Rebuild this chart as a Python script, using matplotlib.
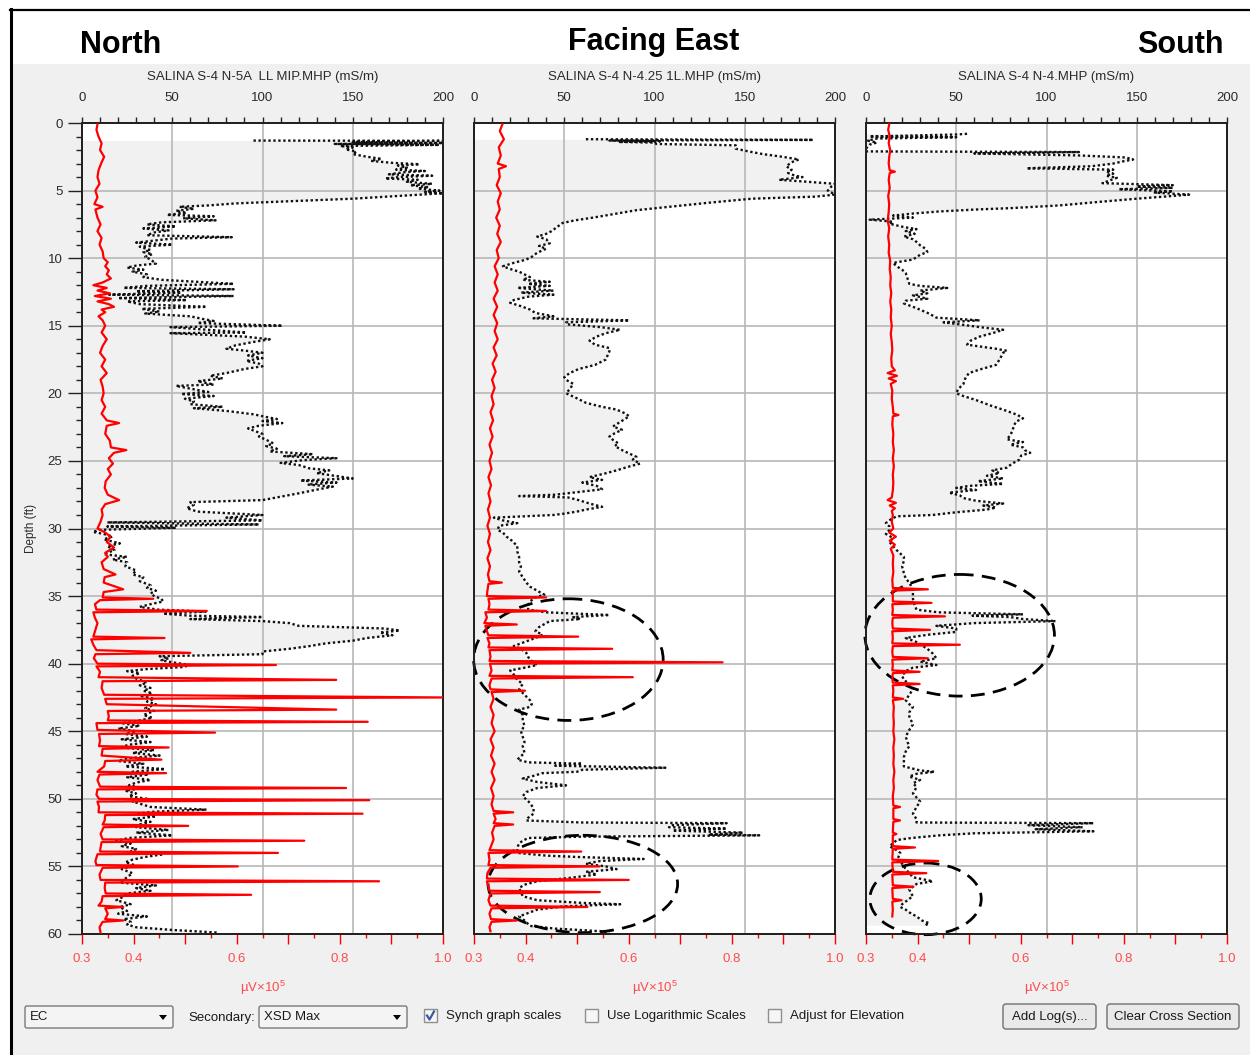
import numpy as np
import matplotlib
matplotlib.use("Agg")
import matplotlib.pyplot as plt
from matplotlib.patches import Ellipse, Rectangle, FancyBboxPatch, Polygon
from matplotlib.lines import Line2D
from matplotlib.ticker import MultipleLocator, FixedLocator, FixedFormatter

plt.rcParams["font.family"] = "Liberation Sans"
plt.rcParams["mathtext.fontset"] = "custom"
plt.rcParams["mathtext.rm"] = "Liberation Sans"
plt.rcParams["mathtext.default"] = "regular"

# ---------------------------------------------------------------- data
titles = ["North", "Facing East", "South"]
log_names = ["SALINA S-4 N-5A  LL MIP.MHP (mS/m)",
             "SALINA S-4 N-4.25 1L.MHP (mS/m)",
             "SALINA S-4 N-4.MHP (mS/m)"]
ec_ticks = [0, 50, 100, 150, 200]
xsd_ticks = [0.3, 0.4, 0.5, 0.6, 0.7, 0.8, 0.9, 1.0]
xsd_ticklabels = ["0.3", "0.4", "", "0.6", "", "0.8", "", "1.0"]
depth_ticks = [0, 5, 10, 15, 20, 25, 30, 35, 40, 45, 50, 55, 60]

# EC log (mS/m) as (depth ft, value) pairs
north_ec = [
    (1.30, 95), (1.32, 200), (1.40, 150), (1.48, 200), (1.55, 140), (1.62, 198),
    (1.70, 143), (1.80, 150), (1.95, 146), (2.10, 152), (2.30, 150), (2.50, 158),
    (2.65, 166), (2.80, 160), (2.95, 172), (3.05, 187), (3.15, 175), (3.30, 180),
    (3.45, 174), (3.55, 190), (3.65, 178), (3.80, 170), (3.90, 194), (4.00, 176),
    (4.10, 168), (4.20, 186), (4.35, 180), (4.50, 194), (4.60, 182), (4.75, 192),
    (4.85, 186), (5.00, 198), (5.10, 190), (5.20, 200), (5.60, 150), (5.95, 85),
    (6.10, 70), (6.20, 54), (6.35, 62), (6.50, 52), (6.65, 58), (6.80, 47),
    (6.90, 73), (7.05, 56), (7.20, 74), (7.35, 44), (7.50, 36), (7.65, 52),
    (7.80, 34), (7.95, 48), (8.10, 40), (8.30, 36), (8.45, 83), (8.55, 50),
    (8.70, 40), (8.85, 30), (9.00, 50), (9.15, 32), (9.40, 38), (9.55, 34),
    (9.70, 39), (9.90, 35), (10.10, 38), (10.40, 41), (10.55, 30), (10.70, 25),
    (10.85, 34), (11.00, 28), (11.20, 36), (11.40, 34), (11.60, 44), (11.90, 84),
    (12.05, 36), (12.20, 23), (12.30, 84), (12.45, 30), (12.55, 55), (12.70, 15),
    (12.80, 84), (12.95, 20), (13.10, 58), (13.20, 25), (13.40, 32), (13.60, 69),
    (13.75, 33), (13.95, 43), (14.10, 35), (14.30, 60), (14.50, 67), (14.65, 73),
    (14.80, 64), (15.00, 111), (15.10, 49), (15.30, 70), (15.50, 91), (15.55, 49),
    (15.80, 90), (16.00, 104), (16.20, 95), (16.45, 85), (16.70, 80), (16.85, 91),
    (17.00, 100), (17.20, 92), (17.40, 100), (17.60, 91), (17.80, 98), (18.00, 100),
    (18.20, 90), (18.50, 80), (18.70, 71), (18.90, 78), (19.10, 64), (19.35, 73),
    (19.45, 52), (19.70, 62), (19.90, 70), (20.05, 55), (20.20, 73), (20.40, 57),
    (20.60, 62), (20.80, 60), (21.00, 78), (21.10, 62), (21.30, 80), (21.55, 95),
    (21.75, 102), (21.90, 108), (22.05, 100), (22.20, 111), (22.40, 98), (22.60, 92),
    (22.80, 96), (23.00, 100), (23.20, 98), (23.50, 103), (23.70, 106), (23.90, 102),
    (24.10, 108), (24.30, 104), (24.50, 128), (24.65, 112), (24.80, 141), (24.95, 122),
    (25.15, 110), (25.30, 120), (25.55, 126), (25.70, 137), (25.90, 130), (26.10, 140),
    (26.30, 150), (26.45, 121), (26.60, 141), (26.75, 125), (26.90, 139), (27.10, 131),
    (27.40, 120), (27.70, 108), (27.90, 100), (28.05, 60), (28.25, 62), (28.50, 58),
    (28.75, 64), (29.00, 100), (29.20, 80), (29.40, 100), (29.55, 14), (29.70, 98),
    (29.85, 14), (29.95, 52), (30.10, 10), (30.25, 6), (30.40, 12), (30.60, 17),
    (30.80, 12), (31.10, 21), (31.30, 14), (31.60, 18), (31.90, 12), (32.10, 25),
    (32.30, 17), (32.50, 25), (32.80, 24), (33.10, 30), (33.40, 28), (33.60, 34),
    (33.90, 32), (34.20, 38), (34.40, 36), (34.60, 41), (34.80, 38), (35.00, 40),
    (35.20, 44), (35.40, 45), (35.60, 38), (35.80, 32), (36.00, 42), (36.15, 69),
    (36.30, 45), (36.45, 60), (36.55, 100), (36.70, 60), (36.85, 100), (37.00, 115),
    (37.20, 120), (37.40, 168), (37.55, 176), (37.70, 165), (37.90, 172), (38.10, 158),
    (38.30, 150), (38.50, 135), (38.70, 126), (38.90, 115), (39.10, 100), (39.30, 100),
    (39.45, 43), (39.60, 48), (39.75, 44), (39.90, 50), (40.10, 60), (40.25, 56),
    (40.40, 36), (40.55, 25), (40.70, 32), (40.90, 28), (41.10, 30), (41.40, 36),
    (41.60, 32), (41.80, 38), (42.00, 34), (42.20, 39), (42.40, 33), (42.60, 40),
    (42.80, 36), (43.00, 41), (43.30, 35), (43.50, 40), (43.80, 34), (44.00, 39),
    (44.20, 32), (44.40, 22), (44.60, 32), (44.80, 20), (45.00, 30), (45.20, 24),
    (45.40, 36), (45.60, 22), (45.80, 38), (46.00, 26), (46.20, 21), (46.40, 40),
    (46.60, 28), (46.80, 43), (47.00, 25), (47.20, 20), (47.40, 34), (47.60, 24),
    (47.80, 46), (48.00, 28), (48.20, 37), (48.40, 25), (48.60, 38), (48.80, 30),
    (49.00, 26), (49.20, 34), (49.40, 24), (49.60, 30), (49.80, 26), (50.00, 36),
    (50.20, 28), (50.40, 33), (50.60, 38), (50.80, 69), (50.95, 40), (51.10, 30),
    (51.30, 41), (51.50, 28), (51.70, 38), (51.90, 32), (52.10, 30), (52.30, 48),
    (52.50, 30), (52.70, 50), (52.90, 26), (53.10, 19), (53.30, 27), (53.50, 22),
    (53.70, 30), (53.90, 27), (54.10, 45), (54.30, 35), (54.50, 28), (54.70, 24),
    (54.90, 29), (55.20, 22), (55.50, 28), (55.80, 25), (56.00, 23), (56.20, 21),
    (56.40, 41), (56.60, 30), (56.80, 38), (57.00, 25), (57.30, 22), (57.50, 19),
    (57.80, 27), (58.00, 21), (58.30, 25), (58.50, 20), (58.70, 36), (58.90, 23),
    (59.10, 27), (59.30, 25), (59.50, 30), (59.70, 50), (59.90, 76),
]

east_ec = [
    (1.20, 62), (1.25, 188), (1.30, 75), (1.35, 103), (1.40, 80), (1.45, 100),
    (1.55, 101), (1.65, 145), (1.90, 145), (2.10, 152), (2.30, 160), (2.50, 171),
    (2.70, 180), (2.90, 176), (3.20, 173), (3.45, 176), (3.70, 174), (3.90, 178),
    (4.00, 182), (4.20, 169), (4.35, 185), (4.50, 200), (4.70, 198), (5.00, 196),
    (5.30, 200), (5.45, 189), (5.60, 154), (5.90, 130), (6.20, 108), (6.45, 90),
    (6.70, 79), (7.00, 66), (7.20, 56), (7.40, 49), (7.70, 46), (8.00, 43),
    (8.20, 40), (8.40, 35), (8.60, 40), (8.90, 42), (9.10, 36), (9.30, 40),
    (9.60, 35), (9.90, 32), (10.10, 29), (10.35, 22), (10.60, 16), (10.80, 20),
    (11.00, 25), (11.20, 28), (11.40, 31), (11.60, 27), (11.75, 42), (11.90, 30),
    (12.05, 42), (12.20, 24), (12.40, 44), (12.55, 26), (12.70, 44), (12.85, 30),
    (13.10, 22), (13.30, 20), (13.55, 26), (13.80, 31), (14.05, 34), (14.30, 44),
    (14.45, 33), (14.60, 86), (14.75, 51), (14.90, 52), (15.10, 70), (15.30, 81),
    (15.55, 73), (15.80, 68), (16.10, 64), (16.40, 67), (16.65, 75), (16.90, 75),
    (17.20, 74), (17.50, 73), (17.90, 67), (18.20, 58), (18.50, 53), (18.80, 50),
    (19.00, 51), (19.30, 55), (19.70, 53), (20.00, 51), (20.30, 56), (20.70, 62),
    (21.00, 71), (21.20, 79), (21.50, 84), (21.70, 86), (21.95, 83), (22.20, 80),
    (22.45, 77), (22.70, 82), (22.95, 78), (23.20, 75), (23.45, 77), (23.70, 80),
    (23.90, 78), (24.20, 82), (24.45, 86), (24.70, 90), (24.90, 88), (25.20, 92),
    (25.45, 85), (25.70, 79), (25.95, 72), (26.20, 64), (26.40, 71), (26.60, 60),
    (26.85, 68), (27.10, 71), (27.30, 58), (27.50, 45), (27.60, 25), (27.70, 52),
    (27.90, 58), (28.15, 64), (28.40, 71), (28.60, 62), (28.75, 57), (28.90, 50),
    (29.00, 44), (29.20, 11), (29.40, 16), (29.60, 24), (29.80, 14), (30.10, 13),
    (30.30, 16), (30.60, 18), (30.90, 21), (31.30, 24), (31.70, 24), (32.10, 25),
    (32.50, 25), (32.80, 26), (33.20, 25), (33.60, 27), (34.00, 29), (34.30, 31),
    (34.60, 35), (34.90, 39), (35.10, 34), (35.40, 31), (35.70, 30), (36.00, 30),
    (36.20, 40), (36.40, 75), (36.55, 55), (36.70, 59), (36.85, 42), (37.00, 40),
    (37.30, 36), (37.60, 34), (37.85, 38), (38.00, 36), (38.30, 30), (38.55, 25),
    (38.70, 22), (38.90, 26), (39.20, 29), (39.50, 30), (39.70, 31), (39.90, 33),
    (40.10, 35), (40.30, 28), (40.50, 20), (40.80, 22), (41.20, 24), (41.50, 27),
    (41.90, 25), (42.30, 28), (42.70, 31), (43.00, 32), (43.20, 31), (43.40, 25),
    (43.80, 27), (44.20, 27), (44.60, 28), (45.00, 26), (45.40, 27), (45.80, 28),
    (46.10, 27), (46.60, 28), (47.10, 24), (47.30, 30), (47.40, 60), (47.55, 45),
    (47.70, 106), (47.85, 60), (48.00, 57), (48.10, 38), (48.30, 33), (48.50, 27),
    (48.75, 35), (49.00, 51), (49.20, 35), (49.50, 29), (49.80, 27), (50.05, 29),
    (50.30, 31), (50.70, 33), (51.10, 33), (51.40, 30), (51.60, 29), (51.75, 60),
    (51.80, 140), (51.95, 110), (52.10, 108), (52.20, 140), (52.35, 110), (52.50, 149),
    (52.65, 130), (52.70, 158), (52.80, 60), (52.90, 30), (53.10, 27), (53.30, 25),
    (53.60, 24), (54.00, 24), (54.20, 40), (54.30, 57), (54.45, 94), (54.60, 70),
    (54.80, 62), (55.00, 73), (55.20, 79), (55.40, 62), (55.60, 68), (55.85, 53),
    (56.10, 35), (56.35, 28), (56.60, 25), (56.90, 26), (57.20, 27), (57.50, 35),
    (57.70, 60), (57.80, 81), (57.95, 50), (58.20, 35), (58.45, 30), (58.70, 25),
    (59.00, 28), (59.40, 31), (59.60, 45), (59.80, 71), (59.95, 75),
]

south_ec = [
    (0.80, 56), (0.85, 50), (1.00, 2), (1.05, 50), (1.15, 6), (1.30, 1),
    (1.45, 6), (1.60, 2), (1.90, 0), (2.10, 0), (2.15, 118), (2.25, 60),
    (2.40, 118), (2.55, 144), (2.70, 148), (2.85, 142), (3.00, 137), (3.20, 125),
    (3.35, 89), (3.45, 137), (3.60, 133), (3.75, 137), (3.90, 133), (4.05, 139),
    (4.20, 136), (4.45, 131), (4.60, 170), (4.70, 150), (4.80, 170), (4.90, 140),
    (5.05, 170), (5.15, 160), (5.30, 179), (5.45, 165), (5.60, 150), (5.85, 128),
    (6.10, 107), (6.30, 80), (6.40, 61), (6.55, 40), (6.70, 26), (6.85, 15),
    (7.00, 26), (7.15, 2), (7.30, 15), (7.45, 13), (7.70, 21), (7.85, 28),
    (8.00, 22), (8.20, 27), (8.40, 21), (8.60, 26), (8.80, 28), (9.05, 30),
    (9.30, 33), (9.55, 34), (9.75, 30), (10.10, 26), (10.35, 15), (10.60, 17),
    (10.85, 20), (11.10, 22), (11.50, 23), (11.90, 24), (12.05, 30), (12.20, 45),
    (12.40, 30), (12.60, 34), (12.75, 26), (13.00, 34), (13.15, 22), (13.35, 21),
    (13.70, 28), (14.10, 35), (14.40, 39), (14.60, 63), (14.75, 43), (14.90, 52),
    (15.10, 63), (15.30, 76), (15.55, 70), (15.80, 63), (16.10, 58), (16.40, 56),
    (16.70, 72), (16.85, 78), (17.00, 76), (17.50, 74), (17.90, 72), (18.20, 64),
    (18.50, 57), (18.90, 55), (19.30, 54), (19.70, 51), (20.00, 50), (20.20, 54),
    (20.50, 61), (20.90, 69), (21.30, 78), (21.60, 84), (21.85, 87), (22.10, 83),
    (22.40, 82), (22.80, 81), (23.10, 80), (23.40, 78), (23.60, 87), (23.80, 80),
    (24.00, 87), (24.20, 88), (24.40, 91), (24.60, 86), (24.90, 85), (25.20, 81),
    (25.50, 78), (25.70, 70), (25.90, 74), (26.10, 67), (26.30, 76), (26.50, 62),
    (26.70, 76), (26.85, 57), (27.00, 50), (27.15, 61), (27.35, 46), (27.55, 52),
    (27.75, 54), (27.95, 61), (28.15, 76), (28.30, 65), (28.45, 72), (28.60, 67),
    (28.80, 50), (29.00, 37), (29.10, 17), (29.30, 14), (29.60, 11), (29.85, 13),
    (30.10, 13), (30.40, 11), (30.70, 15), (31.00, 13), (31.30, 15), (31.60, 17),
    (31.85, 19), (32.10, 21), (32.40, 21), (32.80, 20), (33.30, 21), (33.70, 22),
    (34.00, 24), (34.50, 26), (35.20, 26), (35.70, 27), (36.00, 28), (36.20, 40),
    (36.35, 87), (36.45, 59), (36.55, 80), (36.70, 87), (36.85, 105), (37.00, 60),
    (37.20, 39), (37.40, 50), (37.65, 50), (37.85, 35), (38.10, 22), (38.40, 28),
    (38.90, 34), (39.25, 37), (39.60, 39), (39.85, 30), (40.10, 39), (40.30, 26),
    (40.55, 22), (40.90, 20), (41.20, 21), (41.60, 25), (41.90, 26), (42.30, 24),
    (42.70, 22), (43.00, 24), (43.20, 26), (43.60, 24), (43.90, 24), (44.20, 25),
    (44.50, 26), (44.90, 24), (45.40, 22), (45.80, 23), (46.10, 24), (46.50, 22),
    (46.90, 21), (47.30, 21), (47.60, 21), (47.90, 30), (48.00, 38), (48.15, 28),
    (48.35, 24), (48.60, 30), (48.85, 26), (49.10, 28), (49.40, 27), (49.60, 26),
    (49.90, 28), (50.20, 30), (50.60, 28), (51.10, 26), (51.50, 28), (51.75, 28),
    (51.80, 126), (51.95, 90), (52.10, 120), (52.25, 94), (52.40, 126), (52.55, 60),
    (52.70, 41), (52.90, 25), (53.05, 17), (53.30, 15), (53.50, 13), (53.80, 17),
    (54.00, 19), (54.30, 18), (54.50, 17), (54.80, 20), (55.20, 22), (55.50, 24),
    (55.80, 26), (56.10, 37), (56.30, 28), (56.50, 26), (56.70, 24), (57.00, 25),
    (57.20, 26), (57.50, 23), (57.80, 20), (58.00, 19), (58.20, 22), (58.40, 24),
    (58.70, 28), (59.00, 31), (59.20, 35), (59.35, 33),
]

# XSD Max (uV x 10^5) as (depth ft, value) pairs
north_xsd = [
    (0.1, 0.330), (0.5, 0.328), (1.0, 0.332), (1.5, 0.338), (2.0, 0.335), (2.5, 0.343),
    (3.0, 0.337), (3.5, 0.332), (4.0, 0.330), (4.5, 0.334), (5.0, 0.326), (5.5, 0.330),
    (6.0, 0.324), (6.2, 0.340), (6.4, 0.326), (7.0, 0.330), (7.5, 0.336), (8.0, 0.330),
    (8.5, 0.338), (9.0, 0.334), (9.5, 0.340), (10.0, 0.342), (10.3, 0.350), (10.6, 0.345),
    (10.9, 0.352), (11.2, 0.348), (11.5, 0.356), (11.8, 0.340), (12.0, 0.322), (12.2, 0.348),
    (12.4, 0.330), (12.6, 0.354), (12.8, 0.325), (13.0, 0.356), (13.2, 0.330), (13.4, 0.352),
    (13.6, 0.362), (13.8, 0.338), (14.0, 0.345), (14.3, 0.332), (14.6, 0.340), (15.0, 0.345),
    (15.5, 0.338), (16.0, 0.348), (16.5, 0.340), (17.0, 0.335), (17.5, 0.345), (18.0, 0.338),
    (18.5, 0.348), (19.0, 0.336), (19.5, 0.340), (20.0, 0.342), (20.5, 0.338), (21.0, 0.345),
    (21.5, 0.338), (22.0, 0.348), (22.2, 0.372), (22.4, 0.348), (23.0, 0.345), (23.5, 0.354),
    (24.0, 0.356), (24.2, 0.386), (24.4, 0.362), (24.8, 0.352), (25.2, 0.360), (25.6, 0.350),
    (26.0, 0.356), (26.5, 0.346), (27.0, 0.344), (27.5, 0.350), (27.9, 0.372), (28.2, 0.345),
    (28.6, 0.338), (29.0, 0.340), (29.5, 0.336), (30.0, 0.330), (30.3, 0.345), (30.6, 0.355),
    (31.0, 0.348), (31.4, 0.362), (31.8, 0.345), (32.1, 0.350), (32.5, 0.338), (33.0, 0.342),
    (33.4, 0.365), (33.6, 0.344), (34.0, 0.342), (34.5, 0.380), (34.7, 0.342), (35.1, 0.340),
    (35.2, 0.438), (35.3, 0.335), (35.6, 0.325), (36.0, 0.328), (36.1, 0.542), (36.2, 0.322),
    (36.6, 0.325), (37.0, 0.330), (37.5, 0.326), (38.0, 0.322), (38.1, 0.460), (38.2, 0.318),
    (38.6, 0.322), (39.0, 0.328), (39.2, 0.510), (39.3, 0.326), (39.6, 0.323), (40.0, 0.330),
    (40.1, 0.676), (40.2, 0.328), (40.6, 0.335), (41.0, 0.332), (41.2, 0.793), (41.3, 0.340),
    (41.8, 0.338), (42.3, 0.343), (42.5, 1.000), (42.6, 0.345), (43.0, 0.348), (43.4, 0.793),
    (43.5, 0.350), (43.9, 0.352), (44.2, 0.350), (44.3, 0.854), (44.4, 0.328), (44.9, 0.330),
    (45.1, 0.558), (45.2, 0.333), (45.7, 0.335), (46.1, 0.333), (46.2, 0.468), (46.3, 0.340),
    (46.8, 0.338), (47.1, 0.454), (47.2, 0.345), (47.6, 0.343), (48.0, 0.330), (48.1, 0.463),
    (48.2, 0.334), (48.6, 0.330), (49.1, 0.335), (49.2, 0.812), (49.3, 0.330), (49.7, 0.328),
    (50.0, 0.333), (50.1, 0.857), (50.2, 0.330), (50.6, 0.333), (51.0, 0.332), (51.1, 0.844),
    (51.2, 0.345), (51.6, 0.344), (51.9, 0.340), (52.0, 0.506), (52.1, 0.342), (52.6, 0.336),
    (53.0, 0.340), (53.1, 0.731), (53.2, 0.338), (53.6, 0.336), (53.9, 0.335), (54.0, 0.680),
    (54.1, 0.330), (54.6, 0.326), (54.9, 0.328), (55.0, 0.602), (55.1, 0.340), (55.6, 0.334),
    (56.0, 0.336), (56.1, 0.876), (56.2, 0.345), (56.6, 0.344), (57.0, 0.346), (57.1, 0.628),
    (57.2, 0.340), (57.6, 0.338), (57.9, 0.332), (58.0, 0.380), (58.1, 0.345), (58.5, 0.350),
    (58.9, 0.345), (59.0, 0.380), (59.1, 0.340), (59.5, 0.334), (59.9, 0.336),
]

east_xsd = [
    (0.1, 0.355), (0.6, 0.350), (1.2, 0.358), (1.8, 0.348), (2.4, 0.352), (3.0, 0.346),
    (3.2, 0.362), (3.4, 0.348), (4.0, 0.350), (4.6, 0.344), (5.2, 0.352), (5.8, 0.346),
    (6.4, 0.350), (7.0, 0.343), (7.6, 0.350), (8.2, 0.345), (8.8, 0.352), (9.4, 0.344),
    (10.0, 0.348), (10.6, 0.340), (11.2, 0.346), (11.8, 0.340), (12.4, 0.346), (13.0, 0.338),
    (13.6, 0.345), (14.2, 0.338), (14.8, 0.345), (15.4, 0.340), (16.0, 0.346), (16.6, 0.338),
    (17.2, 0.344), (17.8, 0.336), (18.4, 0.342), (19.0, 0.335), (19.6, 0.340), (20.2, 0.334),
    (20.8, 0.338), (21.4, 0.332), (22.0, 0.337), (22.6, 0.331), (23.2, 0.336), (23.8, 0.330),
    (24.4, 0.335), (25.0, 0.330), (25.6, 0.334), (26.2, 0.328), (26.8, 0.333), (27.4, 0.328),
    (28.0, 0.332), (28.6, 0.327), (29.2, 0.331), (29.8, 0.326), (30.4, 0.331), (31.0, 0.327),
    (31.6, 0.332), (32.2, 0.326), (32.8, 0.331), (33.4, 0.327), (33.9, 0.330), (34.0, 0.354),
    (34.1, 0.328), (34.6, 0.326), (35.0, 0.325), (35.1, 0.440), (35.2, 0.328), (35.6, 0.330),
    (36.0, 0.328), (36.1, 0.440), (36.2, 0.322), (36.6, 0.325), (37.0, 0.320), (37.1, 0.383),
    (37.2, 0.322), (37.6, 0.325), (37.9, 0.328), (38.0, 0.502), (38.1, 0.326), (38.5, 0.330),
    (38.8, 0.328), (38.9, 0.568), (39.0, 0.330), (39.5, 0.332), (39.8, 0.330), (39.9, 0.782),
    (40.0, 0.331), (40.5, 0.334), (40.9, 0.330), (41.0, 0.608), (41.1, 0.334), (41.6, 0.330),
    (41.9, 0.332), (42.0, 0.399), (42.1, 0.334), (42.6, 0.338), (43.2, 0.332), (43.8, 0.338),
    (44.4, 0.334), (45.0, 0.340), (45.6, 0.332), (46.2, 0.338), (46.8, 0.333), (47.4, 0.340),
    (48.0, 0.334), (48.6, 0.340), (49.2, 0.333), (49.8, 0.338), (50.4, 0.334), (50.9, 0.338),
    (51.0, 0.376), (51.1, 0.338), (51.5, 0.342), (51.8, 0.338), (51.9, 0.376), (52.0, 0.340),
    (52.5, 0.335), (53.0, 0.338), (53.5, 0.333), (53.8, 0.330), (53.9, 0.508), (54.0, 0.328),
    (54.5, 0.330), (54.9, 0.328), (55.0, 0.543), (55.1, 0.332), (55.5, 0.326), (55.9, 0.325),
    (56.0, 0.600), (56.1, 0.325), (56.5, 0.328), (56.8, 0.330), (56.9, 0.544), (57.0, 0.332),
    (57.5, 0.328), (57.9, 0.332), (58.0, 0.520), (58.1, 0.334), (58.5, 0.330), (58.9, 0.333),
    (59.0, 0.383), (59.1, 0.334), (59.5, 0.330), (59.8, 0.332),
]

south_xsd = [
    (0.1, 0.345), (0.5, 0.343), (1.0, 0.346), (1.5, 0.344), (2.0, 0.347), (2.5, 0.345),
    (3.0, 0.344), (3.5, 0.346), (3.6, 0.356), (3.7, 0.346), (4.2, 0.344), (4.8, 0.346),
    (5.4, 0.343), (6.0, 0.345), (6.6, 0.344), (7.2, 0.342), (7.8, 0.345), (8.4, 0.343),
    (9.0, 0.345), (9.6, 0.344), (10.2, 0.347), (10.8, 0.346), (11.4, 0.348), (12.0, 0.347),
    (12.6, 0.349), (13.2, 0.347), (13.8, 0.349), (14.4, 0.348), (15.0, 0.350), (15.6, 0.348),
    (16.2, 0.350), (16.8, 0.351), (17.4, 0.349), (18.0, 0.350), (18.3, 0.356), (18.5, 0.342),
    (18.7, 0.360), (18.9, 0.344), (19.1, 0.358), (19.3, 0.348), (19.8, 0.351), (20.4, 0.350),
    (21.0, 0.352), (21.5, 0.353), (21.6, 0.363), (21.7, 0.352), (22.3, 0.351), (23.0, 0.353),
    (23.6, 0.352), (24.2, 0.354), (24.8, 0.352), (25.4, 0.354), (26.0, 0.352), (26.6, 0.353),
    (27.2, 0.352), (27.7, 0.350), (27.9, 0.342), (28.1, 0.358), (28.3, 0.346), (28.5, 0.356),
    (28.7, 0.350), (29.0, 0.352), (29.5, 0.350), (30.0, 0.353), (30.3, 0.345), (30.6, 0.358),
    (30.9, 0.346), (31.2, 0.356), (31.5, 0.348), (32.0, 0.353), (32.6, 0.352), (33.2, 0.353),
    (33.8, 0.351), (34.4, 0.352), (34.5, 0.420), (34.6, 0.351), (35.0, 0.352), (35.4, 0.352),
    (35.5, 0.427), (35.6, 0.351), (36.0, 0.352), (36.4, 0.351), (36.5, 0.453), (36.6, 0.352),
    (37.0, 0.351), (37.4, 0.352), (37.5, 0.424), (37.6, 0.351), (38.1, 0.352), (38.5, 0.351),
    (38.6, 0.482), (38.7, 0.352), (39.1, 0.351), (39.5, 0.352), (39.6, 0.420), (39.7, 0.351),
    (40.1, 0.352), (40.5, 0.351), (40.6, 0.404), (40.7, 0.352), (41.1, 0.351), (41.4, 0.352),
    (41.5, 0.404), (41.6, 0.352), (42.0, 0.353), (42.5, 0.352), (42.6, 0.372), (42.7, 0.352),
    (43.2, 0.354), (43.8, 0.353), (44.4, 0.354), (45.0, 0.353), (45.6, 0.355), (46.2, 0.353),
    (46.8, 0.354), (47.4, 0.353), (48.0, 0.355), (48.6, 0.353), (49.2, 0.354), (49.8, 0.352),
    (50.5, 0.353), (50.6, 0.366), (50.7, 0.353), (51.5, 0.353), (51.6, 0.366), (51.7, 0.353),
    (52.5, 0.352), (52.6, 0.359), (52.7, 0.352), (53.5, 0.352), (53.6, 0.395), (53.7, 0.352),
    (54.5, 0.351), (54.6, 0.440), (54.7, 0.351), (55.4, 0.352), (55.5, 0.417), (55.6, 0.351),
    (56.4, 0.352), (56.5, 0.392), (56.6, 0.351), (57.4, 0.352), (57.5, 0.369), (57.6, 0.351),
    (58.2, 0.352), (58.7, 0.351),
]

# highlighted zones: (EC centre, depth centre, EC width, depth height) per panel
zones = [
    [],
    [(52.3, 39.7, 105.0, 9.0), (60.3, 56.3, 105.0, 7.2)],
    [(51.9, 37.9, 105.0, 9.0), (33.0, 57.4, 61.7, 5.3)],
]

ec_logs = [north_ec, east_ec, south_ec]
xsd_logs = [north_xsd, east_xsd, south_xsd]

# ---------------------------------------------------------------- figure
W, H = 1250, 1055
fig = plt.figure(figsize=(W / 100, H / 100), dpi=100, facecolor="#f0f0f0")

bg = fig.add_axes([0, 0, 1, 1], zorder=0)
bg.set_xlim(0, W)
bg.set_ylim(H, 0)
bg.axis("off")

# window chrome
bg.add_patch(Rectangle((0, 0), W, 64, facecolor="white", edgecolor="none"))
bg.add_patch(Rectangle((0, 0), 10, H, facecolor="white", edgecolor="none"))
bg.add_line(Line2D([10.5, 10.5], [9, H], color="black", lw=2.2))
bg.add_line(Line2D([10, W], [9.5, 9.5], color="black", lw=1.6))

title_x = [80, 654, 1224]
title_y = [53, 50, 53]
title_ha = ["left", "center", "right"]
for t, x, y, ha in zip(titles, title_x, title_y, title_ha):
    bg.text(x, y, t, fontsize=22, fontweight="bold", ha=ha, va="baseline",
            color="black")

PANEL_LEFT = [82, 474, 866]
PANEL_W = 361
PANEL_TOP, PANEL_BOTTOM = 123, 934
DARK = "#222222"
RED = "#ff0000"
LABEL_RED = "#ff4b4b"

for i in range(3):
    l = PANEL_LEFT[i]
    rect = [l / W, 1 - PANEL_BOTTOM / H, PANEL_W / W, (PANEL_BOTTOM - PANEL_TOP) / H]
    ax = fig.add_axes(rect, zorder=2)
    ax.set_facecolor("white")

    ec_depth = [p[0] for p in ec_logs[i]]
    ec_val = [p[1] for p in ec_logs[i]]
    ax.fill_betweenx(ec_depth, 0, ec_val, color="#f1f1f1", lw=0, zorder=0.2)
    ax.plot(ec_val, ec_depth, color="#111111", lw=1.7, ls=(0, (1, 1.1)),
            zorder=2, solid_capstyle="butt")

    ax.set_xlim(0, 200)
    ax.set_ylim(60, 0)
    ax.set_axisbelow(True)
    ax.grid(True, which="major", color="#b8b8b8", lw=1.2)

    for (xc, yc, w, h) in zones[i]:
        ax.add_patch(Ellipse((xc, yc), w, h, fill=False, edgecolor="black",
                             lw=2.0, ls=(0, (5, 3)), clip_on=False, zorder=5))

    xsd_depth = [p[0] for p in xsd_logs[i]]
    xsd_val = [p[1] for p in xsd_logs[i]]

    ax2 = ax.twiny()
    ax2.plot(xsd_val, xsd_depth, color=RED, lw=1.6, zorder=3)
    ax2.set_xlim(0.3, 1.0)
    ax2.set_ylim(60, 0)

    # EC axis on top
    ax.xaxis.tick_top()
    ax.xaxis.set_label_position("top")
    ax.xaxis.set_major_locator(FixedLocator(ec_ticks))
    ax.xaxis.set_minor_locator(MultipleLocator(10))
    ax.tick_params(axis="x", which="both", top=True, bottom=False,
                   labeltop=True, labelbottom=False, direction="out",
                   length=4.5, width=1.0, color=DARK, pad=9.5,
                   labelsize=9.5, labelcolor="#2a2a2a")
    ax.set_xlabel(log_names[i], fontsize=9.5, color="#2a2a2a", labelpad=8)

    # XSD axis at the bottom
    ax2.xaxis.tick_bottom()
    ax2.xaxis.set_label_position("bottom")
    ax2.xaxis.set_major_locator(FixedLocator(xsd_ticks))
    ax2.xaxis.set_major_formatter(FixedFormatter(xsd_ticklabels))
    ax2.xaxis.set_minor_locator(MultipleLocator(0.05))
    ax2.tick_params(axis="x", which="major", length=7, width=1.0, color=RED,
                    pad=7, labelsize=9.5, labelcolor=LABEL_RED, direction="out")
    ax2.tick_params(axis="x", which="minor", length=3, width=1.0, color=RED,
                    direction="out")
    ax2.set_xlabel("µV×10$^5$", fontsize=9.5, color=LABEL_RED, labelpad=9.5)

    # depth axis
    ax.yaxis.set_major_locator(FixedLocator(depth_ticks))
    ax.yaxis.set_minor_locator(MultipleLocator(1))
    ax2.tick_params(axis="y", which="both", left=False, right=False,
                    labelleft=False, labelright=False)
    if i == 0:
        ax.tick_params(axis="y", which="major", length=10, width=1.0,
                       color=DARK, pad=4, labelsize=9.5, labelcolor="#2a2a2a")
        ax.tick_params(axis="y", which="minor", length=4.5, width=1.0,
                       color=DARK)
        ax.set_ylabel("Depth (ft)", fontsize=8.5, color="#2a2a2a", labelpad=8)
    else:
        ax.tick_params(axis="y", which="both", left=False, labelleft=False)

    for a in (ax, ax2):
        for s in a.spines.values():
            s.set_color(DARK)
            s.set_linewidth(1.4)

# ---------------------------------------------------------------- controls
UI_TEXT = "#1a1a1a"


def combo(x, w, label):
    bg.add_patch(FancyBboxPatch((x, 1006), w, 22,
                                boxstyle="round,pad=0,rounding_size=2",
                                facecolor="#f4f4f4", edgecolor="#7a7a7a", lw=1.0))
    bg.text(x + 5, 1017.5, label, fontsize=9.5, color=UI_TEXT, va="center",
            ha="left")
    ax_ = x + w - 10
    bg.add_patch(Polygon([(ax_ - 4, 1015), (ax_ + 4, 1015), (ax_, 1020)],
                         closed=True, facecolor="black", edgecolor="none"))


def checkbox(x, label, checked=False):
    bg.add_patch(Rectangle((x, 1009), 13, 13, facecolor="#f6f6f6",
                           edgecolor="#8e8f8f", lw=1.0))
    if checked:
        bg.add_line(Line2D([x + 3, x + 5.5, x + 10], [1015.5, 1019.5, 1011.5],
                           color="#3b5aa0", lw=1.6))
    bg.text(x + 22, 1016, label, fontsize=9.5, color=UI_TEXT, va="center",
            ha="left")


def button(x, w, label):
    bg.add_patch(FancyBboxPatch((x, 1004), w, 25,
                                boxstyle="round,pad=0,rounding_size=3",
                                facecolor="#e9e9e9", edgecolor="#707070", lw=1.0))
    bg.text(x + w / 2, 1017, label, fontsize=9.5, color=UI_TEXT, va="center",
            ha="center")


combo(25, 148, "EC")
bg.text(188, 1017.5, "Secondary:", fontsize=9.5, color=UI_TEXT, va="center")
combo(259, 148, "XSD Max")
checkbox(424, "Synch graph scales", checked=True)
checkbox(585, "Use Logarithmic Scales")
checkbox(768, "Adjust for Elevation")
button(1003, 93, "Add Log(s)...")
button(1107, 132, "Clear Cross Section")

fig.savefig("out.png", dpi=100, facecolor=fig.get_facecolor())
